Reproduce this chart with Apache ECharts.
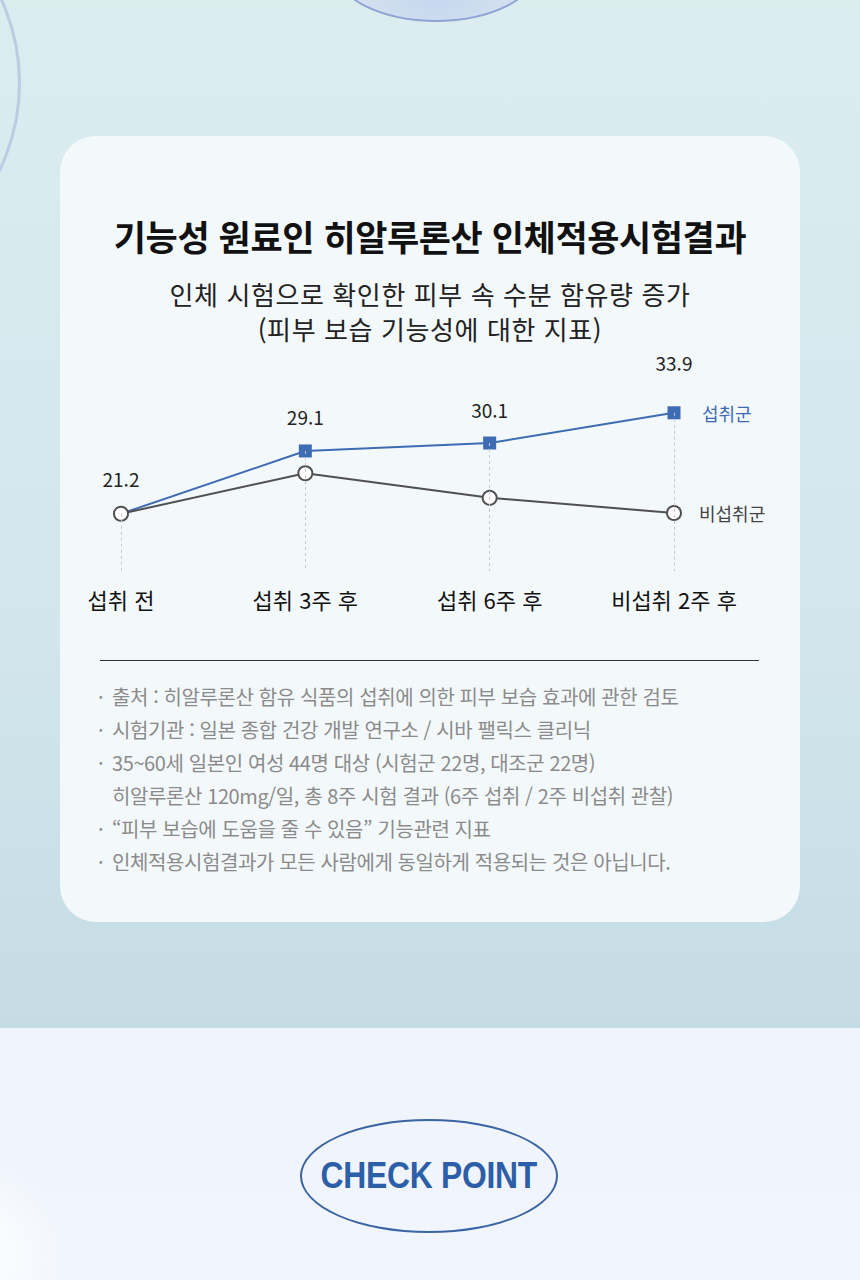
<!DOCTYPE html>
<html lang="ko">
<head>
<meta charset="utf-8">
<title>히알루론산 인체적용시험결과</title>
<script src="https://cdn.jsdelivr.net/npm/echarts@6/dist/echarts.min.js"></script>
<style>
  html, body { margin: 0; padding: 0; }
  body {
    width: 860px; height: 1280px; position: relative; overflow: hidden;
    font-family: "Noto Sans CJK KR", "Noto Sans", sans-serif;
    background: linear-gradient(180deg, #dcedf0 0px, #d3e6ec 600px, #c5dce5 1028px, #eff4fc 1028px, #f1f5fd 1280px);
  }
  .bubble-top {
    position: absolute; left: 335px; top: -82px; width: 198px; height: 100px;
    border-radius: 50%; border: 2px solid #8fa3d4;
    background: radial-gradient(ellipse at 50% 70%, #c6d5ee, #d6e3f1 70%);
  }
  .arc-left {
    position: absolute; left: -385px; top: -120px; width: 400px; height: 400px;
    border-radius: 50%; border: 3px solid rgba(165, 185, 218, 0.6);
  }
  .bubble-bottom {
    position: absolute; left: -90px; top: 1160px; width: 160px; height: 160px;
    border-radius: 50%; background: radial-gradient(circle at 40% 60%, #ffffff, rgba(255,255,255,0) 70%);
  }
  .card {
    position: absolute; left: 60px; top: 136px; width: 740px; height: 786px;
    border-radius: 36px; background: #f3f8fb;
  }
  .title {
    position: absolute; left: 0; top: 213px; width: 860px; text-align: center;
    font-size: 35px; font-weight: 700; color: #111; line-height: 46px; letter-spacing: -0.4px;
  }
  .subtitle {
    position: absolute; left: 0; top: 276px; width: 860px; text-align: center;
    font-size: 26px; color: #222; line-height: 35px; letter-spacing: 0.6px;
  }
  #chart { position: absolute; left: 0; top: 0; width: 860px; height: 640px; }
  .rule { position: absolute; left: 100px; top: 660px; width: 659px; height: 1px; background: #333; }
  .notes {
    position: absolute; left: 96px; top: 680px; width: 700px; margin: 0; padding: 0;
    list-style: none; font-size: 20px; color: #8b8b8b; line-height: 33px; letter-spacing: -0.4px;
    white-space: nowrap;
  }
  .notes li { padding-left: 16px; position: relative; }
  .notes li::before { content: "·"; position: absolute; left: 2px; top: 0; }
  .check {
    position: absolute; left: 300px; top: 1119px; width: 254px; height: 110px;
    border-radius: 50%; border: 2px solid #3b64a3;
    display: flex; align-items: center; justify-content: center;
  }
  .check span {
    display: inline-block; white-space: nowrap; transform: scaleX(0.86);
    font-family: "Liberation Sans", sans-serif;
    font-weight: 700; font-size: 37px; color: #2d5ea8; letter-spacing: -0.3px;
  }
</style>
</head>
<body>
<div class="bubble-top"></div>
<div class="arc-left"></div>
<div class="bubble-bottom"></div>
<div class="card"></div>
<div class="title">기능성 원료인 히알루론산 인체적용시험결과</div>
<div class="subtitle">인체 시험으로 확인한 피부 속 수분 함유량 증가<br>(피부 보습 기능성에 대한 지표)</div>
<div id="chart"></div>
<div class="rule"></div>
<ul class="notes">
  <li>출처 : 히알루론산 함유 식품의 섭취에 의한 피부 보습 효과에 관한 검토</li>
  <li>시험기관 : 일본 종합 건강 개발 연구소 / 시바 팰릭스 클리닉</li>
  <li>35~60세 일본인 여성 44명 대상 (시험군 22명, 대조군 22명)<br>히알루론산 120mg/일, 총 8주 시험 결과 (6주 섭취 / 2주 비섭취 관찰)</li>
  <li>“피부 보습에 도움을 줄 수 있음” 기능관련 지표</li>
  <li>인체적용시험결과가 모든 사람에게 동일하게 적용되는 것은 아닙니다.</li>
</ul>
<div class="check"><span>CHECK POINT</span></div>

<script>
  // data
  const categories = ["섭취 전", "섭취 3주 후", "섭취 6주 후", "비섭취 2주 후"];
  const intakeName = "섭취군";
  const nonIntakeName = "비섭취군";
  const intakeValues = [21.2, 29.1, 30.1, 33.9];
  const nonIntakeValues = [21.2, 26.3, 23.2, 21.3]; // no labels in picture, read off positions

  const BLUE = "#3e6cb4";
  const GRAY = "#505050";
  const yMin = 14;
  const yMax = 34;

  const chart = echarts.init(document.getElementById("chart"), null, { renderer: "svg" });

  // intake: baseline is shared with the control group (drawn as its circle),
  // last value label sits higher
  const intakeData = intakeValues.map((v, i) => {
    const item = { value: v };
    if (i === 0) item.symbol = "none";
    if (i === intakeValues.length - 1) item.label = { distance: 34 };
    return item;
  });

  // control group: only the shared baseline carries a value label
  const nonIntakeData = nonIntakeValues.map((v, i) => {
    const item = { value: v };
    if (i === 0) item.label = { show: true };
    return item;
  });

  // dotted guide from the highest point of each category down to the axis
  const guideLines = categories.map((c, i) => [
    { coord: [i, Math.max(intakeValues[i], nonIntakeValues[i])] },
    { coord: [i, yMin] },
  ]);

  const valueLabel = { position: "top", distance: 18, color: "#222", fontSize: 19 };

  const option = {
    animation: false,
    textStyle: { fontFamily: "Noto Sans CJK KR" },
    grid: { left: 121, right: 186, top: 412, height: 159 },
    xAxis: {
      type: "category",
      data: categories,
      boundaryGap: false,
      axisLine: { show: false },
      axisTick: { show: false },
      splitLine: { show: false },
      axisLabel: { color: "#111", fontSize: 22, margin: 17, letterSpacing: -0.3 },
    },
    yAxis: { type: "value", min: yMin, max: yMax, show: false },
    series: [
      {
        name: "guide",
        type: "line",
        data: nonIntakeValues,
        symbol: "none",
        lineStyle: { opacity: 0 },
        z: 1,
        silent: true,
        markLine: {
          silent: true,
          symbol: "none",
          label: { show: false },
          lineStyle: { color: "#c4c9ce", width: 1, type: [3, 3] },
          data: guideLines,
        },
      },
      {
        name: intakeName,
        type: "line",
        data: intakeData,
        z: 3,
        symbol: "rect",
        symbolSize: 13,
        itemStyle: { color: BLUE },
        lineStyle: { color: BLUE, width: 2 },
        label: Object.assign({ show: true }, valueLabel),
        endLabel: { show: true, formatter: intakeName, color: BLUE, fontSize: 18, distance: 28 },
      },
      {
        name: nonIntakeName,
        type: "line",
        data: nonIntakeData,
        z: 4,
        symbol: "circle",
        symbolSize: 14,
        itemStyle: { color: "#fff", borderColor: GRAY, borderWidth: 2 },
        lineStyle: { color: GRAY, width: 2 },
        label: Object.assign({ show: false }, valueLabel),
        endLabel: { show: true, formatter: nonIntakeName, color: "#444", fontSize: 18, distance: 25 },
      },
    ],
  };

  chart.setOption(option);
</script>
</body>
</html>
